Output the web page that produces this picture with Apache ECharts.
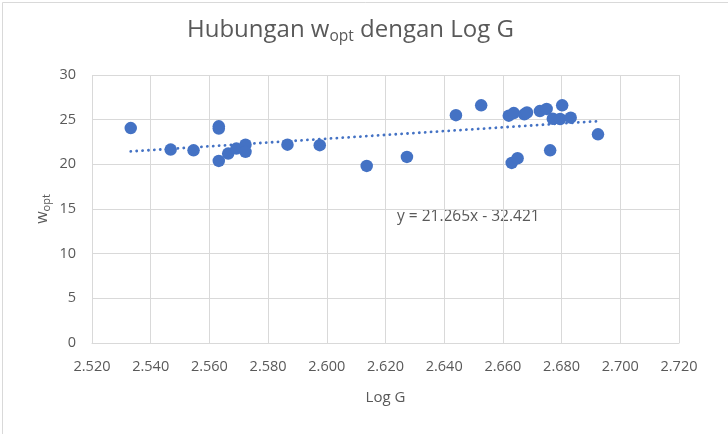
<!DOCTYPE html>
<html><head><meta charset="utf-8">
<script src="https://cdn.jsdelivr.net/npm/echarts@6/dist/echarts.min.js"></script>
<style>html,body{margin:0;padding:0;background:#fff}#c{width:728px;height:434px}</style>
</head><body><div id="c"></div>
<script>
const logG = [2.5332,2.5468,2.5546,2.5632,2.5632,2.5632,2.5664,2.5692,2.5723,2.5723,2.5866,2.5976,2.6136,2.6273,2.6440,2.6526,2.6620,2.6637,2.6630,2.6650,2.6673,2.6682,2.6726,2.6749,2.6770,2.6761,2.6795,2.6802,2.6831,2.6924];
const wopt = [24.06,21.65,21.57,24.25,24.0,20.38,21.2,21.76,22.2,21.4,22.2,22.15,19.82,20.83,25.5,26.6,25.45,25.74,20.16,20.68,25.6,25.8,25.96,26.2,25.1,21.57,25.07,26.6,25.22,23.36];
const slope = 21.265, intercept = -32.421;
const xTicks = [2.52,2.72,0.02];
const yTicks = [0,30,5];
const points = logG.map((x,i)=>[x,wopt[i]]);
const xmin = Math.min(...logG), xmax = Math.max(...logG);
const trend = [[xmin, slope*xmin+intercept],[xmax, slope*xmax+intercept]];
const FONT = '"Open Sans", "Noto Sans", sans-serif';
const chart = echarts.init(document.getElementById('c'));
chart.setOption({
  animation:false,
  backgroundColor:'#fff',
  textStyle:{fontFamily:FONT},
  title:{
    text:'{a|Hubungan w}{s|opt}{a| dengan Log G}',
    left:182, top:10,
    textStyle:{fontWeight:'normal',rich:{
      a:{fontSize:24,lineHeight:30,color:'#595959',fontFamily:FONT,fontWeight:'normal'},
      s:{fontSize:15.5,lineHeight:15,verticalAlign:'bottom',color:'#595959',fontFamily:FONT,fontWeight:'normal'}
    }}
  },
  grid:{left:92,right:49,top:75,bottom:91,containLabel:false},
  xAxis:{
    type:'value', min:xTicks[0], max:xTicks[1], interval:xTicks[2],
    name:'Log G', nameLocation:'middle', nameGap:47, nameMoveOverlap:false,
    nameTextStyle:{fontSize:15,color:'#595959',fontFamily:FONT},
    axisLine:{show:true,lineStyle:{color:'#d9d9d9',width:1}},
    axisTick:{show:false},
    axisLabel:{formatter:v=>v.toFixed(3),fontSize:14.5,color:'#595959',margin:16,fontFamily:FONT},
    splitLine:{show:true,lineStyle:{color:'#d9d9d9',width:1}}
  },
  yAxis:{
    type:'value', min:yTicks[0], max:yTicks[1], interval:yTicks[2],
    name:'{a|w}{s|opt}', nameLocation:'middle', nameRotate:90, nameGap:40, nameMoveOverlap:false,
    nameTextStyle:{rich:{
      a:{fontSize:16,lineHeight:20,color:'#595959',fontFamily:FONT},
      s:{fontSize:11,lineHeight:11,verticalAlign:'bottom',color:'#595959',fontFamily:FONT}
    }},
    axisLine:{show:false},
    axisTick:{show:false},
    axisLabel:{fontSize:14.5,color:'#595959',margin:16,fontFamily:FONT},
    splitLine:{show:true,lineStyle:{color:'#d9d9d9',width:1}}
  },
  series:[
    {type:'scatter',data:points,symbolSize:12.5,itemStyle:{color:'#4472C4',opacity:1},z:3},
    {type:'line',data:trend,symbol:'none',z:2,
     lineStyle:{color:'#4472C4',width:2.8,type:[0.1,5.8],cap:'round'}}
  ],
  graphic:[
    {type:'rect',left:0,top:0,shape:{x:0.5,y:0.5,width:727,height:433},style:{fill:null,stroke:'#d9d9d9',lineWidth:1},silent:true,z:-1},
    {type:'text',left:397,top:209,style:{text:'y = '+slope.toFixed(3)+'x - '+Math.abs(intercept).toFixed(3),fontSize:15.5,fill:'#595959',fontFamily:FONT}}
  ]
});
</script></body></html>
